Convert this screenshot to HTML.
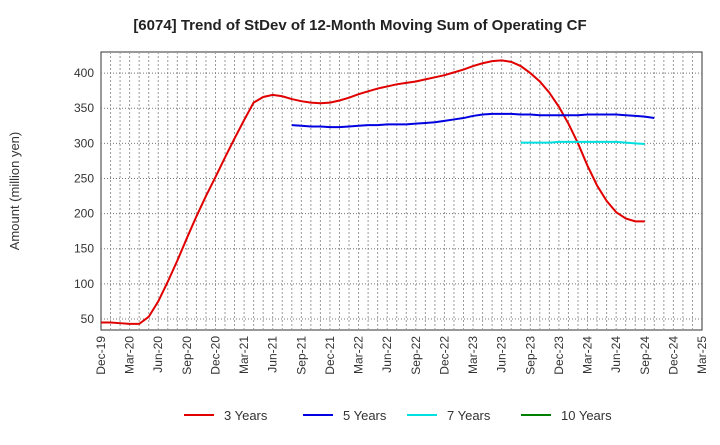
<!DOCTYPE html>
<html><head><meta charset="utf-8"><style>
body{margin:0;background:#fff;font-family:"Liberation Sans",sans-serif;}
svg text{font-family:"Liberation Sans",sans-serif;}
</style></head><body>
<svg id="c" width="720" height="440"></svg>
<script>
const xLabels=["Dec-19","Mar-20","Jun-20","Sep-20","Dec-20","Mar-21","Jun-21","Sep-21","Dec-21","Mar-22","Jun-22","Sep-22","Dec-22","Mar-23","Jun-23","Sep-23","Dec-23","Mar-24","Jun-24","Sep-24","Dec-24","Mar-25"];
const yTicks=[50,100,150,200,250,300,350,400];
// monthly values, index 0 = Dec-19
const s3Start=0;
const s3=[45,45,44,43,43,53,75,103,133,165,196,225,252,280,307,333,358,366,369,367,363,360,358,357,358,361,365,370,374,378,381,384,386,388,391,394,397,401,405,410,414,417,418,416,410,400,388,372,352,328,300,268,240,218,202,193,189,189];
const s5Start=20;
const s5=[326,325,324,324,323,323,324,325,326,326,327,327,327,328,329,330,332,334,336,339,341,342,342,342,341,341,340,340,340,340,340,341,341,341,341,340,339,338,336];
const s7Start=44;
const s7=[301,301,301,301,302,302,302,302,302,302,302,301,300,299];
const s10Start=0;
const s10=[];
const series=[["3 Years","#e00000",s3,s3Start],["5 Years","#0000e0",s5,s5Start],["7 Years","#00e0e0",s7,s7Start],["10 Years","#008000",s10,s10Start]];
const L=101,R=702,T=52,B=330,yMin=34.3,yMax=430;
const xm=i=>L+(R-L)*i/63;
const y=v=>B-(v-yMin)/(yMax-yMin)*(B-T);
const svg=document.getElementById('c');const NS="http://www.w3.org/2000/svg";
function mk(t,a,txt){const e=document.createElementNS(NS,t);for(const k in a)e.setAttribute(k,a[k]);if(txt!==undefined)e.textContent=txt;svg.appendChild(e);return e;}
let e=mk('rect',{x:L,y:T,width:R-L,height:B-T,fill:'#fff',stroke:'#333'});


for(let m=1;m<63;m++){const X=xm(m);
 e=mk('line',{x1:X,x2:X,y1:T,y2:B,stroke:'#999','stroke-dasharray':'2,2'});
 
 
}
xLabels.forEach((l,i)=>{const X=xm(i*3);
 e=mk('text',{x:X+4,y:B+6,'font-size':12,fill:'#333','text-anchor':'end',transform:`rotate(-90 ${X+4} ${B+6})`},l);
 
 
});
yTicks.forEach(v=>{const Y=y(v);
 e=mk('line',{x1:L,x2:R,y1:Y,y2:Y,stroke:'#777','stroke-dasharray':'1,2'});
 
 
 e=mk('text',{x:L-7,y:Y+4,'font-size':12,fill:'#333','text-anchor':'end'},v);
 
 
});
series.forEach(([n,c,d,s])=>{if(!d.length)return;
 e=mk('polyline',{points:d.map((v,i)=>xm(s+i)+','+y(v)).join(' '),fill:'none',stroke:c,'stroke-width':2});
 
 
});
e=mk('text',{x:360,y:30,'font-size':15,'font-weight':'bold','text-anchor':'middle',fill:'#222'},'[6074]  Trend of StDev of 12-Month Moving Sum of Operating CF');


e=mk('text',{x:19,y:191,'font-size':13,fill:'#333','text-anchor':'middle',transform:'rotate(-90 19 191)'},'Amount (million yen)');


const lx=[184,303,407,521];
series.forEach(([n,c],i)=>{
 e=mk('line',{x1:lx[i],x2:lx[i]+30,y1:415,y2:415,stroke:c,'stroke-width':2});
 
 
 e=mk('text',{x:lx[i]+40,y:420,'font-size':13,fill:'#333'},n);
 
 
});
</script>
</body></html>
